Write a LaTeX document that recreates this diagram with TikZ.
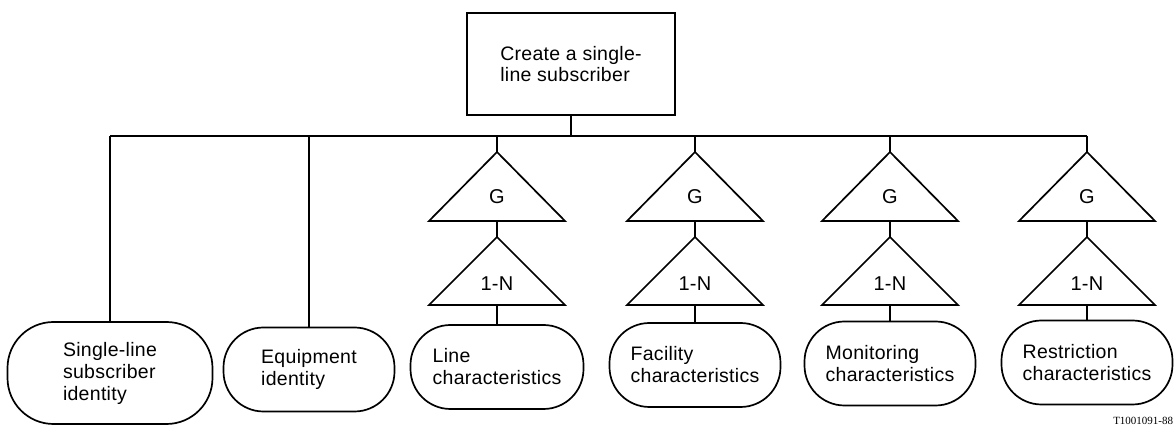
\documentclass[tikz,border=0pt]{standalone}
\usepackage{fontspec}
\setmainfont{Liberation Sans}[LetterSpace=1.5]
\newfontfamily\tagfont{Liberation Serif}
\begin{document}
\begin{tikzpicture}[x=1pt,y=-1pt,
  every path/.style={line width=1.7pt},
  lbl/.style={font=\fontsize{20}{22}\selectfont, inner sep=0pt},
  topbox/.style={draw, line width=1.7pt, rectangle, minimum width=208pt, minimum height=102pt,
     align=left, font=\fontsize{19.5}{21}\selectfont},
  ent/.style={draw, line width=1.7pt, rectangle, rounded corners=40pt, minimum width=171pt,
     minimum height=84pt, align=left, font=\fontsize{19.5}{22}\selectfont},
  sym/.style={line width=1.7pt, line join=miter}]
\useasboundingbox (0,0) rectangle (1176,427);

\node[topbox] (top) at (571,64) {Create a single-\\line subscriber};

\node[ent, minimum width=205pt, minimum height=102pt, rounded corners=46pt] (n1) at (110,373)
  {Single-line\\subscriber\\identity};
\node[ent] (n2) at (309,369.5) {Equipment\\identity};
\node[ent, minimum width=173pt] (n3) at (497,367) {Line\\characteristics};
\node[ent] (n4) at (695,365) {Facility\\characteristics};
\node[ent] (n5) at (890,363.5) {Monitoring\\characteristics};
\node[ent] (n6) at (1087,362.5) {Restriction\\characteristics};

\coordinate (busL) at (110,136);
\coordinate (busR) at (1087,136);
\draw (busL) -- (busR);
\draw (top.south) -- (top.south |- busL);
\draw (busL) -- (n1.north);
\draw (n2.north |- busL) -- (n2.north);

\foreach \cx/\i in {497/3,695/4,890/5,1087/6} {
  \coordinate (ga\i) at (\cx,152);
  \coordinate (gb\i) at (\cx,221);
  \coordinate (na\i) at (\cx,237);
  \coordinate (nb\i) at (\cx,305);
  \draw[sym] (ga\i) -- ++(68,69) -- ++(-136,0) -- cycle;
  \node[lbl] (gt\i) at (\cx,197) {G};
  \draw[sym] (na\i) -- ++(68,68) -- ++(-136,0) -- cycle;
  \node[lbl] (nt\i) at (\cx,284) {1-N};
  \draw (ga\i |- busL) -- (ga\i);
  \draw (gb\i) -- (na\i);
  \draw (nb\i) -- (n\i.north);
}

\node[anchor=south east, inner sep=0pt, font=\tagfont\fontsize{11}{11}\selectfont] (tag) at (1174,425) {T1001091-88};
\end{tikzpicture}
\end{document}
